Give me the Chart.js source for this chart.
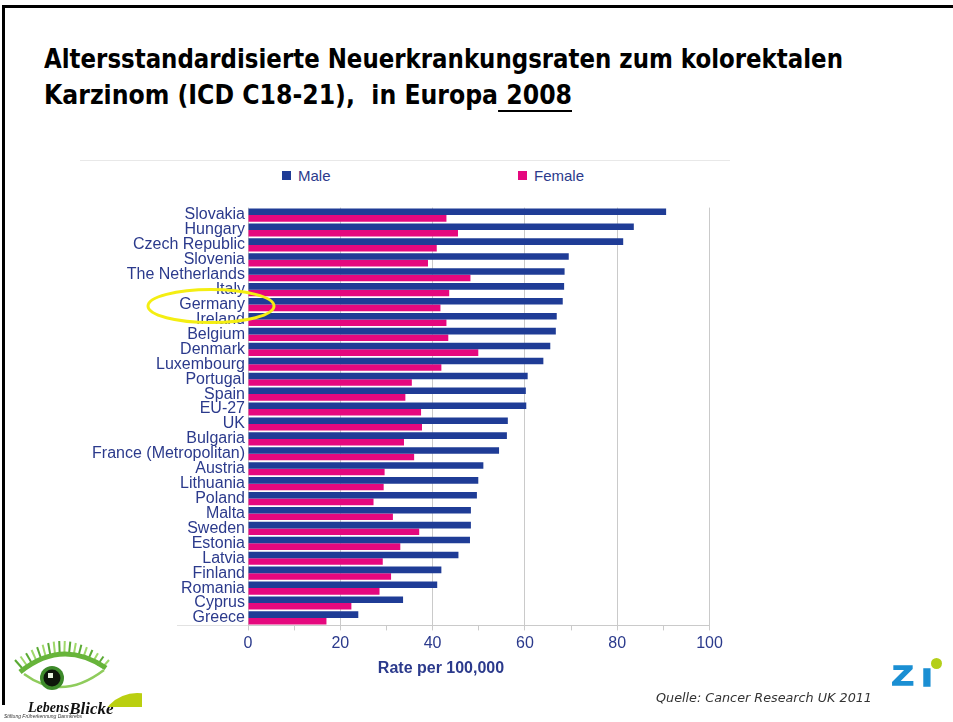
<!DOCTYPE html>
<html>
<head>
<meta charset="utf-8">
<script src="https://cdn.jsdelivr.net/npm/chart.js@4.4.1/dist/chart.umd.min.js"></script>
<style>
html,body{margin:0;padding:0;background:#fff;}
body{width:953px;height:722px;position:relative;overflow:hidden;font-family:"Liberation Sans",Arial,sans-serif;}
.abs{position:absolute;}
#bTop{left:2px;top:5px;width:951px;height:3px;background:#000;}
#bLeft{left:2px;top:5px;width:3px;height:700px;background:#000;}
.title{left:44px;font-family:"DejaVu Sans Condensed","DejaVu Sans",sans-serif;font-weight:bold;font-size:26px;line-height:30px;color:#000;white-space:pre;transform-origin:0 0;}
#t1{top:44px;}
#t2{top:80px;}
#t2 u{text-decoration-thickness:2px;text-underline-offset:6px;}
#sep{left:80px;top:160px;width:650px;height:1px;background:#e8e8e8;}
.leg{top:167px;height:18px;line-height:18px;font-size:15px;color:#2b3a8c;white-space:nowrap;}
.leg i{display:inline-block;width:9px;height:9px;vertical-align:top;margin-top:4px;margin-right:7px;}
#chartBox{left:80px;top:195px;width:700px;height:500px;}
#xtitle{left:341px;width:200px;top:658px;text-align:center;font-weight:bold;font-size:16px;line-height:20px;color:#2b3a8c;}
#src{left:656px;top:690px;font-family:"DejaVu Sans",Verdana,sans-serif;font-style:italic;font-size:12.5px;line-height:16px;color:#333;white-space:nowrap;transform-origin:0 0;}
.zi{font-family:"Liberation Sans",Arial,sans-serif;font-weight:bold;font-size:28px;line-height:28px;color:#1b8fd3;white-space:nowrap;transform-origin:0 0;}
#ziZ{left:892px;top:662px;-webkit-text-stroke:1.6px #1b8fd3;transform:scaleX(1.25);}
#ziI{left:923px;top:662px;-webkit-text-stroke:3.4px #1b8fd3;}
#ziDot{left:931px;top:658px;width:11px;height:11px;border-radius:50%;background:#b4cf1a;}
#leb{left:28px;top:700px;font-family:"Liberation Serif",serif;font-style:italic;font-weight:bold;font-size:14px;line-height:14px;color:#111;white-space:nowrap;}
#leb span{font-size:17px;position:relative;top:2px;}
#stift{left:4px;top:713px;font-size:5px;line-height:6px;font-style:italic;color:#333;white-space:nowrap;}
#greenClip{left:100px;top:690px;width:42px;height:17px;overflow:hidden;}
#greenClip div{position:absolute;left:-1px;top:3px;width:76px;height:76px;border-radius:50%;background:#bacf10;}
#eye{left:12px;top:640px;}
</style>
</head>
<body>
<div class="abs" id="bTop"></div>
<div class="abs" id="bLeft"></div>
<div class="abs title" id="t1">Altersstandardisierte Neuerkrankungsraten zum kolorektalen</div>
<div class="abs title" id="t2">Karzinom (ICD C18-21),  in Europa<u> 2008</u></div>
<div class="abs" id="sep"></div>
<div class="abs leg" id="leg0" style="left:282px"></div>
<div class="abs leg" id="leg1" style="left:518px"></div>
<div class="abs" id="chartBox"><canvas id="c" width="700" height="500"></canvas></div>
<div class="abs" id="xtitle">Rate per 100,000</div>
<div class="abs" id="src">Quelle: Cancer Research UK 2011</div>
<div class="abs zi" id="ziZ">Z</div>
<div class="abs zi" id="ziI">ı</div>
<div class="abs" id="ziDot"></div>
<canvas class="abs" id="eye" width="100" height="62"></canvas>
<div class="abs" id="leb">Lebens<span>Blicke</span></div>
<div class="abs" id="stift">Stiftung Früherkennung Darmkrebs</div>
<div class="abs" id="greenClip"><div></div></div>
<script>
const categories = ['Slovakia','Hungary','Czech Republic','Slovenia','The Netherlands','Italy','Germany','Ireland','Belgium','Denmark','Luxembourg','Portugal','Spain','EU-27','UK','Bulgaria','France (Metropolitan)','Austria','Lithuania','Poland','Malta','Sweden','Estonia','Latvia','Finland','Romania','Cyprus','Greece'];
const maleRates = [90.6,83.6,81.3,69.5,68.6,68.5,68.2,66.9,66.7,65.5,64.0,60.6,60.2,60.3,56.3,56.1,54.4,51.0,49.9,49.6,48.3,48.3,48.1,45.6,41.9,41.0,33.6,23.9];
const femaleRates = [43.0,45.5,40.9,39.0,48.2,43.6,41.7,43.0,43.4,49.9,41.9,35.5,34.1,37.5,37.7,33.8,36.0,29.6,29.4,27.2,31.4,37.1,33.0,29.2,31.0,28.5,22.4,17.0];
const seriesNames = ['Male','Female'];
const seriesColors = ['#1f3c96','#e5087e'];
const xTicks = [0,20,40,60,80,100];
const highlighted = 'Germany';

const labelColor = '#2b3a8c';
const gridColor = '#cacaca';

// Title fitting
(function(){
  const t1 = document.getElementById('t1');
  const w1 = t1.getBoundingClientRect().width;
  t1.style.transform = 'scaleX(' + (799 / w1) + ')';
  const t2 = document.getElementById('t2');
  const w2 = t2.getBoundingClientRect().width;
  t2.style.transform = 'scaleX(' + (528 / w2) + ')';
  const src = document.getElementById('src');
  const ws = src.getBoundingClientRect().width;
  src.style.transform = 'scaleX(' + (216/ws) + ')';
})();

// Legend
seriesNames.forEach((n,i)=>{
  const el = document.getElementById('leg'+i);
  el.innerHTML = '<i style="background:'+seriesColors[i]+'"></i>' + n;
});

// Eye logo (decorative)
(function(){
  const c = document.getElementById('eye').getContext('2d');
  for (let i=0;i<18;i++){
    const t = i/17;
    c.strokeStyle = i%2 ? '#9fd86a' : '#5aaa34';
    c.lineWidth = 2;
    c.beginPath();
    const x0 = 10 + t*80, y0 = 28 - Math.sin(t*Math.PI)*15;
    c.moveTo(x0, y0);
    c.lineTo(x0 + (t-0.5)*14, y0 - 8 - Math.sin(t*Math.PI)*4);
    c.stroke();
  }
  c.lineWidth = 5; c.strokeStyle = '#67b43a';
  c.beginPath(); c.moveTo(8,32); c.quadraticCurveTo(50,-2,94,28); c.stroke();
  c.lineWidth = 2.5; c.strokeStyle = '#8fcc5c';
  c.beginPath(); c.moveTo(12,34); c.quadraticCurveTo(50,62,92,30); c.stroke();
  c.fillStyle = '#3d8a2a';
  c.beginPath(); c.arc(40,38,12,0,Math.PI*2); c.fill();
  c.fillStyle = '#0d160a';
  c.beginPath(); c.arc(40,38,8.5,0,Math.PI*2); c.fill();
  c.fillStyle = '#e8f4e0';
  c.fillRect(36,33,5,5);
})();

const ellipsePlugin = {
  id: 'ellipseMark',
  afterDraw(chart){
    const y = chart.scales.y;
    const ca = chart.chartArea;
    const idx = categories.indexOf(highlighted);
    const cy = y.getPixelForValue(idx) + 1.5;
    const cx = ca.left - 37;
    const ctx = chart.ctx;
    ctx.save();
    ctx.strokeStyle = '#f4ee12';
    ctx.lineWidth = 3;
    ctx.beginPath();
    ctx.ellipse(cx, cy, 63, 16.5, 0, 0, Math.PI*2);
    ctx.stroke();
    ctx.strokeStyle = '#e2e2e2';
    ctx.lineWidth = 1;
    ctx.beginPath();
    ctx.moveTo(ca.left - 71, Math.round(ca.bottom) + 0.5);
    ctx.lineTo(ca.left, Math.round(ca.bottom) + 0.5);
    ctx.stroke();
    ctx.restore();
  }
};

new Chart(document.getElementById('c'), {
  type: 'bar',
  data: {
    labels: categories,
    datasets: [
      {label: seriesNames[0], data: maleRates, backgroundColor: seriesColors[0], barPercentage: 1.0, categoryPercentage: 0.88, borderWidth: 0},
      {label: seriesNames[1], data: femaleRates, backgroundColor: seriesColors[1], barPercentage: 1.0, categoryPercentage: 0.88, borderWidth: 0}
    ]
  },
  options: {
    indexAxis: 'y',
    responsive: false,
    animation: false,
    devicePixelRatio: 1,
    layout: {padding: {top: 11.6, right: 70.5, bottom: 37.4, left: 0}},
    plugins: {legend: {display: false}, tooltip: {enabled: false}},
    scales: {
      x: {
        min: 0, max: 100,
        ticks: {
          stepSize: 10,
          autoSkip: false,
          maxRotation: 0,
          padding: 4,
          color: labelColor,
          font: {family: '"Liberation Sans", Arial, sans-serif', size: 16},
          callback: (v) => xTicks.includes(v) ? String(v) : ''
        },
        grid: {
          color: (c) => (c.tick && xTicks.includes(c.tick.value)) ? gridColor : 'rgba(0,0,0,0)',
          tickColor: gridColor,
          tickLength: 5,
          lineWidth: 1
        },
        border: {color: gridColor}
      },
      y: {
        ticks: {
          autoSkip: false,
          padding: 3,
          color: labelColor,
          font: {family: '"Liberation Sans", Arial, sans-serif', size: 16}
        },
        grid: {display: false, drawTicks: false},
        border: {display: false},
        afterFit: (s) => { s.width = 168; }
      }
    }
  },
  plugins: [ellipsePlugin]
});
</script>
</body>
</html>
